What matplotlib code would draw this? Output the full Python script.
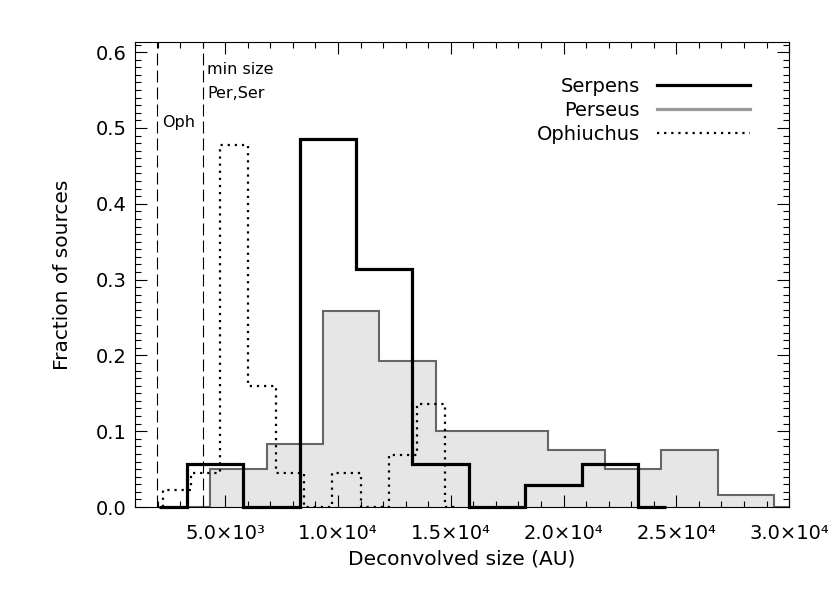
import matplotlib.pyplot as plt
from matplotlib.ticker import MultipleLocator
from matplotlib.lines import Line2D

# histogram bin edges (AU) and fraction of sources
ser_edges = [2050, 3300, 5800, 8300, 10800, 13300, 15800, 18300, 20800, 23300, 24550]
ser_frac = [0.0, 0.057, 0.0, 0.486, 0.314, 0.057, 0.0, 0.029, 0.057, 0.0]

per_edges = [3080, 4330, 6830, 9330, 11830, 14330, 16830, 19330, 21830, 24330, 26830, 29330, 30580]
per_frac = [0.0, 0.050, 0.083, 0.259, 0.192, 0.100, 0.100, 0.075, 0.050, 0.075, 0.016, 0.0]

oph_edges = [2250, 3500, 4750, 6000, 7250, 8500, 9750, 11000, 12250, 13500, 14750, 15375]
oph_frac = [0.023, 0.045, 0.477, 0.159, 0.045, 0.0, 0.045, 0.0, 0.068, 0.136, 0.0]

# minimum deconvolved sizes (Oph, Per/Ser)
min_sizes = [1970, 4000]

regions = ['Serpens', 'Perseus', 'Ophiuchus']

xticks = [5000, 10000, 15000, 20000, 25000, 30000]
xtick_labels = ['5.0×10³', '1.0×10⁴', '1.5×10⁴', '2.0×10⁴', '2.5×10⁴', '3.0×10⁴']
yticks = [0.0, 0.1, 0.2, 0.3, 0.4, 0.5, 0.6]

fs = 14
plt.rcParams['font.family'] = ['DejaVu Sans']

fig = plt.figure(figsize=(8.3, 5.93), dpi=100)
ax = fig.add_axes([0.1627, 0.145, 0.788, 0.7837])

# Perseus: filled grey histogram
ax.stairs(per_frac, per_edges, fill=True, color='#e6e6e6', zorder=1)
ax.stairs(per_frac, per_edges, color='#666666', lw=1.5, zorder=2)
# Ophiuchus: dotted
ax.stairs(oph_frac, oph_edges, color='black', lw=1.6, ls=(0, (1, 2.2)), zorder=3)
# Serpens: thick black
ax.stairs(ser_frac, ser_edges, color='black', lw=2.3, zorder=4, clip_on=False)

# min size lines
for xs in min_sizes:
    ax.axvline(xs, color='black', lw=0.8, ls=(0, (10.8, 4.5)), zorder=5)

ax.text(2220, 0.501, 'Oph', fontsize=11.5, va='baseline')
ax.text(4200, 0.571, 'min size', fontsize=11.5, va='baseline')
ax.text(4200, 0.540, 'Per,Ser', fontsize=11.5, va='baseline')

ax.set_xlim(1000, 30000)
ax.set_ylim(0, 0.613)
ax.set_xticks(xticks, xtick_labels)
ax.set_yticks(yticks, ['%.1f' % v for v in yticks])
ax.xaxis.set_minor_locator(MultipleLocator(1000))
ax.yaxis.set_minor_locator(MultipleLocator(0.01))
ax.tick_params(which='both', direction='in', top=True, right=True, width=0.8, labelsize=fs)
ax.tick_params(which='major', length=8.6)
ax.tick_params(which='minor', length=4.5)
ax.tick_params(axis='x', pad=12)
ax.tick_params(axis='y', pad=6)
for sp in ax.spines.values():
    sp.set_linewidth(0.8)

ax.set_xlabel('Deconvolved size (AU)', fontsize=14.5, labelpad=5)
ax.set_ylabel('Fraction of sources', fontsize=14.5, labelpad=17)

handles = [Line2D([], [], color='black', lw=2.3),
           Line2D([], [], color='#999999', lw=2.3),
           Line2D([], [], color='black', lw=1.6, ls=(0, (1, 2.2)))]
ax.legend(handles, regions, loc='upper right', bbox_to_anchor=(0.941, 0.926),
          frameon=False, markerfirst=False, fontsize=fs, handlelength=4.8,
          handletextpad=0.9, labelspacing=0.27, borderpad=0, borderaxespad=0)

fig.savefig('out.png', dpi=100)
